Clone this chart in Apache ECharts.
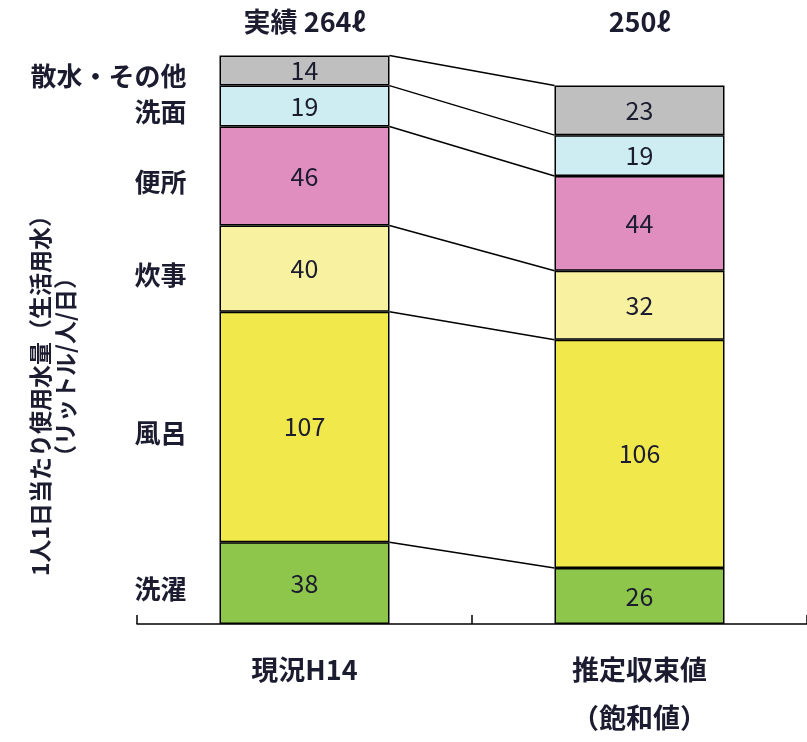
<!DOCTYPE html>
<html><head><meta charset="utf-8">
<script src="https://cdn.jsdelivr.net/npm/echarts@6/dist/echarts.min.js"></script>
<style>html,body{margin:0;padding:0;background:#fff}#c{width:807px;height:742px}</style>
</head><body><div id="c"></div>
<script>
const categories = ['現況H14', '推定収束値\n（飽和値）'];
const seriesNames = ['洗濯', '風呂', '炊事', '便所', '洗面', '散水・その他'];
const washing = [38, 26];
const bath = [107, 106];
const cooking = [40, 32];
const toilet = [46, 44];
const washface = [19, 19];
const other = [14, 23];
const totalLabels = ['実績 264ℓ', '250ℓ'];
const yTitle1 = '1人1日当たり使用水量（生活用水）';
const yTitle2 = '（リットル/人/日）';

const values = [washing, bath, cooking, toilet, washface, other];
const colors = ['#8DC64A', '#F1E84B', '#F7F1A0', '#E08EC0', '#CDEDF2', '#BFBFBF'];
const FONT = '"Noto Sans CJK JP", sans-serif';
const TXT = '#1c1c30';
const BW = 170;
const YMAX = 280;

const cum = [[], []];
for (let c = 0; c < 2; c++) {
  let s = 0;
  for (let k = 0; k < values.length; k++) { s += values[k][c]; cum[c].push(s); }
}

const chart = echarts.init(document.getElementById('c'));
const barSeries = seriesNames.map((n, k) => ({
  name: n, type: 'bar', stack: 'a', barWidth: BW,
  data: values[k],
  itemStyle: { color: colors[k], borderColor: '#000', borderWidth: 1.5 },
  label: { show: true, position: 'inside', fontSize: 25, fontFamily: FONT, color: TXT },
  emphasis: { disabled: true }
}));

const connectors = {
  type: 'custom', silent: true, z: 1,
  data: cum[0].map((v, k) => [k]),
  renderItem: (params, api) => {
    const k = api.value(0);
    const p1 = api.coord([0, cum[0][k]]);
    const p2 = api.coord([1, cum[1][k]]);
    return { type: 'line', shape: { x1: p1[0] + BW / 2, y1: p1[1], x2: p2[0] - BW / 2, y2: p2[1] },
      style: { stroke: '#000', lineWidth: 1.5 } };
  }
};

const nameLabels = {
  type: 'custom', silent: true, z: 5,
  data: seriesNames.map((n, k) => [k]),
  renderItem: (params, api) => {
    const k = api.value(0);
    const lo = k === 0 ? 0 : cum[0][k - 1];
    const p = api.coord([0, (lo + cum[0][k]) / 2]);
    return { type: 'text', style: { x: p[0] - BW / 2 - 33, y: p[1] + 6, text: seriesNames[k],
      font: 'bold 26px ' + FONT, fill: TXT, align: 'right', verticalAlign: 'middle' } };
  }
};

const totals = {
  type: 'custom', silent: true, z: 5,
  data: [[0], [1]],
  renderItem: (params, api) => {
    const i = api.value(0);
    const p = api.coord([i, YMAX]);
    return { type: 'text', style: { x: p[0], y: p[1] + 1, text: totalLabels[i],
      font: 'bold 27px ' + FONT, fill: TXT, align: 'center', verticalAlign: 'middle' } };
  }
};

chart.setOption({
  animation: false,
  grid: { left: 137, right: 0, top: 21, bottom: 115 },
  xAxis: {
    type: 'category', data: categories,
    axisLine: { show: true, lineStyle: { color: '#000', width: 1.5 } },
    axisTick: { show: true, inside: true, length: 9, interval: 0, lineStyle: { color: '#000', width: 1.5 } },
    axisLabel: { fontSize: 27, fontWeight: 'bold', fontFamily: FONT, color: TXT, lineHeight: 48, margin: 22 }
  },
  yAxis: { type: 'value', min: 0, max: YMAX, show: false },
  graphic: [
    { type: 'text', x: 40, y: 390, rotation: Math.PI / 2,
      style: { text: yTitle1, font: 'bold 23px ' + FONT, fill: TXT, align: 'center', verticalAlign: 'middle' } },
    { type: 'text', x: 65, y: 367, rotation: Math.PI / 2,
      style: { text: yTitle2, font: 'bold 23px ' + FONT, fill: TXT, align: 'center', verticalAlign: 'middle' } }
  ],
  series: [...barSeries, connectors, nameLabels, totals]
});
</script></body></html>
